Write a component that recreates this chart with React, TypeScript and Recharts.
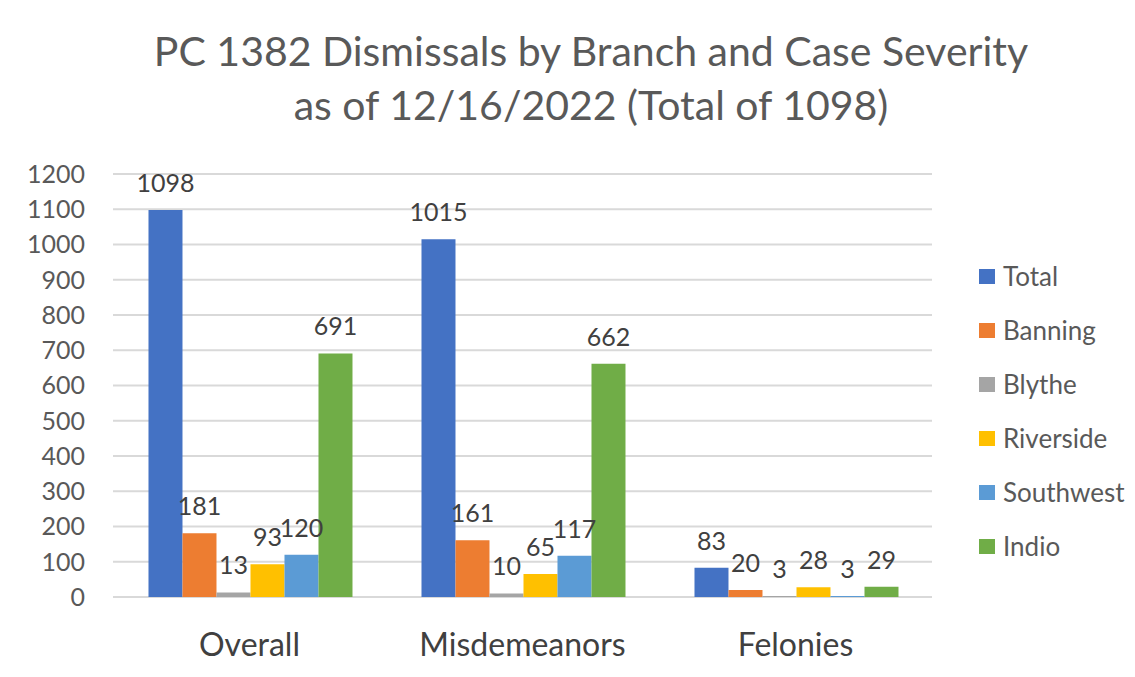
import React from "react"
import { BarChart, Bar, XAxis, YAxis, CartesianGrid, Legend, LabelList } from "recharts"

const categories = ["Overall", "Misdemeanors", "Felonies"]
const total = [1098, 1015, 83]
const banning = [181, 161, 20]
const blythe = [13, 10, 3]
const riverside = [93, 65, 28]
const southwest = [120, 117, 3]
const indio = [691, 662, 29]
const yTicks = [0, 100, 200, 300, 400, 500, 600, 700, 800, 900, 1000, 1100, 1200]

const series = [
  { key: "Total", values: total, color: "#4472C4" },
  { key: "Banning", values: banning, color: "#ED7D31" },
  { key: "Blythe", values: blythe, color: "#A5A5A5" },
  { key: "Riverside", values: riverside, color: "#FFC000" },
  { key: "Southwest", values: southwest, color: "#5B9BD5" },
  { key: "Indio", values: indio, color: "#70AD47" },
]

const data = categories.map((name, i) => {
  const row: Record<string, string | number> = { name }
  series.forEach((s) => (row[s.key] = s.values[i]))
  return row
})

const font = "Lato, 'Open Sans', sans-serif"

function LegendBox() {
  return (
    <div style={{ width: 150, fontFamily: font }}>
      {series.map((s) => (
        <div key={s.key} style={{ height: 54, display: "flex", alignItems: "center" }}>
          <span style={{ width: 16, height: 15, background: s.color, display: "inline-block", marginRight: 8 }} />
          <span style={{ fontSize: 26, color: "#595959" }}>{s.key}</span>
        </div>
      ))}
    </div>
  )
}

export default function App() {
  return (
    <div style={{ margin: -8, width: 1135, height: 677, position: "relative", background: "#fff", fontFamily: font }}>
      <div style={{ position: "absolute", left: 7, top: 0, width: 1, height: 677, background: "#d9d9d9" }} />
      <div
        style={{
          position: "absolute",
          top: 24,
          left: 0,
          width: 1182,
          textAlign: "center",
          fontSize: 41,
          lineHeight: "54px",
          color: "#595959",
          zIndex: 1,
        }}
      >
        <div>PC 1382 Dismissals by Branch and Case Severity</div>
        <div>as of 12/16/2022 (Total of 1098)</div>
      </div>
      <BarChart
        width={1135}
        height={677}
        data={data}
        margin={{ top: 174, right: 53, left: 0, bottom: 0 }}
        barCategoryGap="13%"
        barGap={0}
      >
        <CartesianGrid vertical={false} stroke="#d9d9d9" strokeWidth={2} />
        <XAxis
          dataKey="name"
          axisLine={false}
          tickLine={false}
          tickSize={0}
          tickMargin={36}
          height={80}
          tick={{ fontSize: 32, fill: "#404040" }}
        />
        <YAxis
          domain={[0, 1200]}
          ticks={yTicks}
          axisLine={false}
          tickLine={false}
          tickSize={0}
          tickMargin={28}
          width={113}
          interval={0}
          tick={{ fontSize: 25, fill: "#595959" }}
        />
        <Legend
          layout="vertical"
          align="right"
          verticalAlign="middle"
          content={<LegendBox />}
          wrapperStyle={{ left: 979, right: "auto", top: 249 }}
        />
        {series.map((s) => (
          <Bar key={s.key} dataKey={s.key} fill={s.color} isAnimationActive={false}>
            <LabelList dataKey={s.key} position="top" offset={18} fill="#404040" fontSize={25} />
          </Bar>
        ))}
      </BarChart>
    </div>
  )
}
